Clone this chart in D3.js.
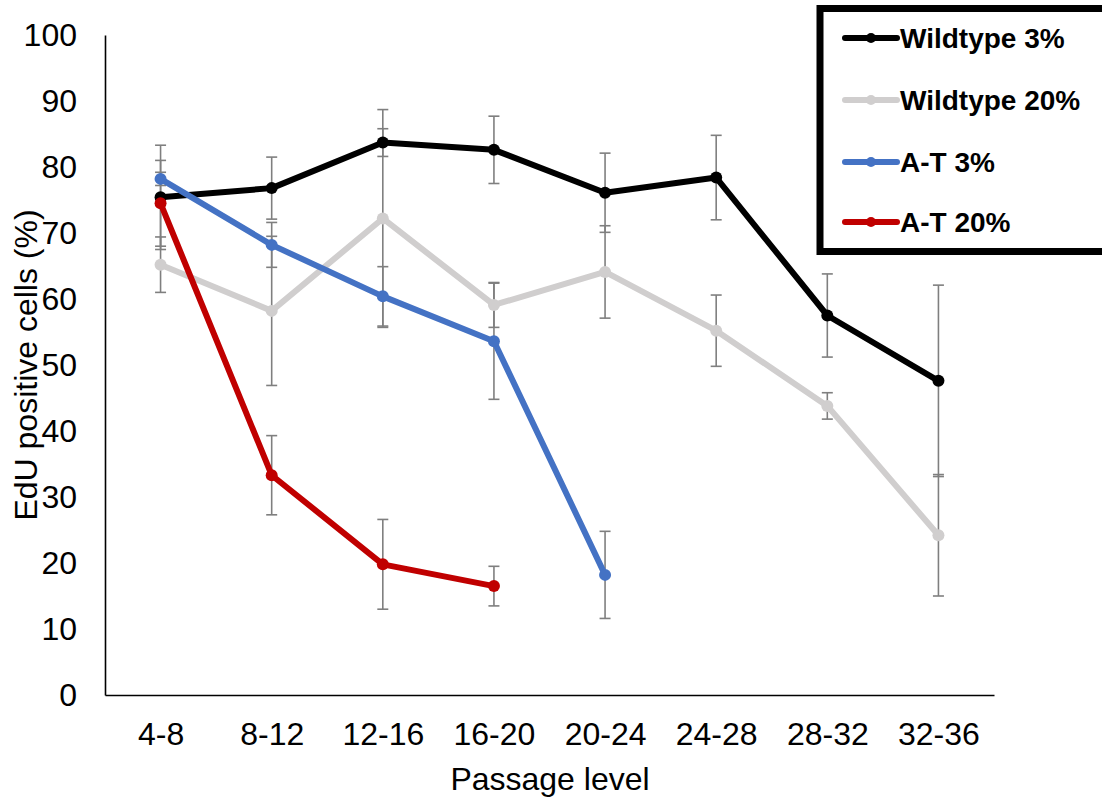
<!DOCTYPE html>
<html>
<head>
<meta charset="utf-8">
<script src="https://cdn.jsdelivr.net/npm/d3@7"></script>
<style>
  body { margin: 0; background: #fff; }
  text { font-family: "Liberation Sans", Arial, sans-serif; }
</style>
</head>
<body>
<div id="chart"></div>
<script>
var categories = ["4-8", "8-12", "12-16", "16-20", "20-24", "24-28", "28-32", "32-36"];
var yTicks = [0, 10, 20, 30, 40, 50, 60, 70, 80, 90, 100];

var seriesNames = ["Wildtype 3%", "Wildtype 20%", "A-T 3%", "A-T 20%"];

var wt3 = [75.4, 76.8, 83.7, 82.6, 76.1, 78.4, 57.5, 47.6];
var wt3Err = [7.9, 4.7, 2.1, 5.1, 6.0, 6.4, 6.3, 14.5];

var wt20 = [65.2, 58.2, 72.2, 59.1, 64.1, 55.2, 43.8, 24.2];
var wt20Err = [4.2, 11.3, 16.5, 3.4, 7.0, 5.4, 2.0, 9.2];

var at3 = [78.2, 68.2, 60.4, 53.6, 18.2];
var at3Err = [1.0, 3.4, 4.5, 8.8, 6.6];

var at20 = [74.5, 33.3, 19.8, 16.5];
var at20Err = [6.5, 6.0, 6.8, 3.0];

var colors = ["#000000", "#d0cece", "#4472c4", "#c00000"];

var svgWidth = 1102, svgHeight = 797;

var svg = d3.select("#chart").append("svg")
    .attr("width", svgWidth)
    .attr("height", svgHeight);

var xScale = d3.scalePoint()
    .domain(categories)
    .range([105, 994])
    .padding(0.5);

var yScale = d3.scaleLinear()
    .domain([0, 100])
    .range([695, 35]);

// build series objects from the arrays
var series = [wt3, wt20, at3, at20].map(function(vals, i) {
    var errs = [wt3Err, wt20Err, at3Err, at20Err][i];
    return {
        name: seriesNames[i],
        color: colors[i],
        points: vals.map(function(v, j) {
            return { cat: categories[j], value: v, err: errs[j] };
        })
    };
});

// axes
var yAxis = svg.append("g")
    .attr("transform", "translate(105,0)")
    .call(d3.axisLeft(yScale).tickValues(yTicks).tickSize(0).tickPadding(28));

var xAxis = svg.append("g")
    .attr("transform", "translate(0,695)")
    .call(d3.axisBottom(xScale).tickSize(0).tickPadding(27));

svg.selectAll(".domain")
    .attr("stroke", "#000")
    .attr("stroke-width", 1.6);

svg.selectAll(".tick text")
    .attr("fill", "#000")
    .style("font-size", "32px");

// axis titles
svg.append("text")
    .attr("x", 550)
    .attr("y", 790)
    .attr("text-anchor", "middle")
    .style("font-size", "32px")
    .text("Passage level");

svg.append("text")
    .attr("transform", "translate(37,365) rotate(-90)")
    .attr("text-anchor", "middle")
    .style("font-size", "32px")
    .text("EdU positive cells (%)");

// error bars
var capHalf = 5.5;
series.forEach(function(s) {
    var g = svg.append("g")
        .attr("stroke", "#7f7f7f")
        .attr("stroke-width", 1.6);
    var bars = g.selectAll("g")
        .data(s.points)
        .enter()
        .append("g");
    bars.append("line")
        .attr("x1", function(d) { return xScale(d.cat); })
        .attr("x2", function(d) { return xScale(d.cat); })
        .attr("y1", function(d) { return yScale(d.value + d.err); })
        .attr("y2", function(d) { return yScale(d.value - d.err); });
    bars.append("line")
        .attr("x1", function(d) { return xScale(d.cat) - capHalf; })
        .attr("x2", function(d) { return xScale(d.cat) + capHalf; })
        .attr("y1", function(d) { return yScale(d.value + d.err); })
        .attr("y2", function(d) { return yScale(d.value + d.err); });
    bars.append("line")
        .attr("x1", function(d) { return xScale(d.cat) - capHalf; })
        .attr("x2", function(d) { return xScale(d.cat) + capHalf; })
        .attr("y1", function(d) { return yScale(d.value - d.err); })
        .attr("y2", function(d) { return yScale(d.value - d.err); });
});

// lines and markers
var line = d3.line()
    .x(function(d) { return xScale(d.cat); })
    .y(function(d) { return yScale(d.value); });

series.forEach(function(s) {
    svg.append("path")
        .datum(s.points)
        .attr("d", line)
        .attr("fill", "none")
        .attr("stroke", s.color)
        .attr("stroke-width", 6)
        .attr("stroke-linejoin", "round");
    svg.selectAll(null)
        .data(s.points)
        .enter()
        .append("circle")
        .attr("cx", function(d) { return xScale(d.cat); })
        .attr("cy", function(d) { return yScale(d.value); })
        .attr("r", 6)
        .attr("fill", s.color);
});

// legend
svg.append("rect")
    .attr("x", 820)
    .attr("y", 8.5)
    .attr("width", 300)
    .attr("height", 243)
    .attr("fill", "#fff")
    .attr("stroke", "#000")
    .attr("stroke-width", 7);

var legendY = [38, 100, 162, 222];
var legend = svg.selectAll(".legend")
    .data(series)
    .enter()
    .append("g")
    .attr("transform", function(d, i) {
        return "translate(0," + legendY[i] + ")";
    });

legend.append("line")
    .attr("x1", 845)
    .attr("x2", 897)
    .attr("stroke", function(d) { return d.color; })
    .attr("stroke-width", 6)
    .attr("stroke-linecap", "round");

legend.append("circle")
    .attr("cx", 871)
    .attr("r", 5)
    .attr("fill", function(d) { return d.color; });

legend.append("text")
    .attr("x", 900)
    .attr("y", 10)
    .style("font-size", "28px")
    .style("font-weight", "bold")
    .text(function(d) { return d.name; });
</script>
</body>
</html>
